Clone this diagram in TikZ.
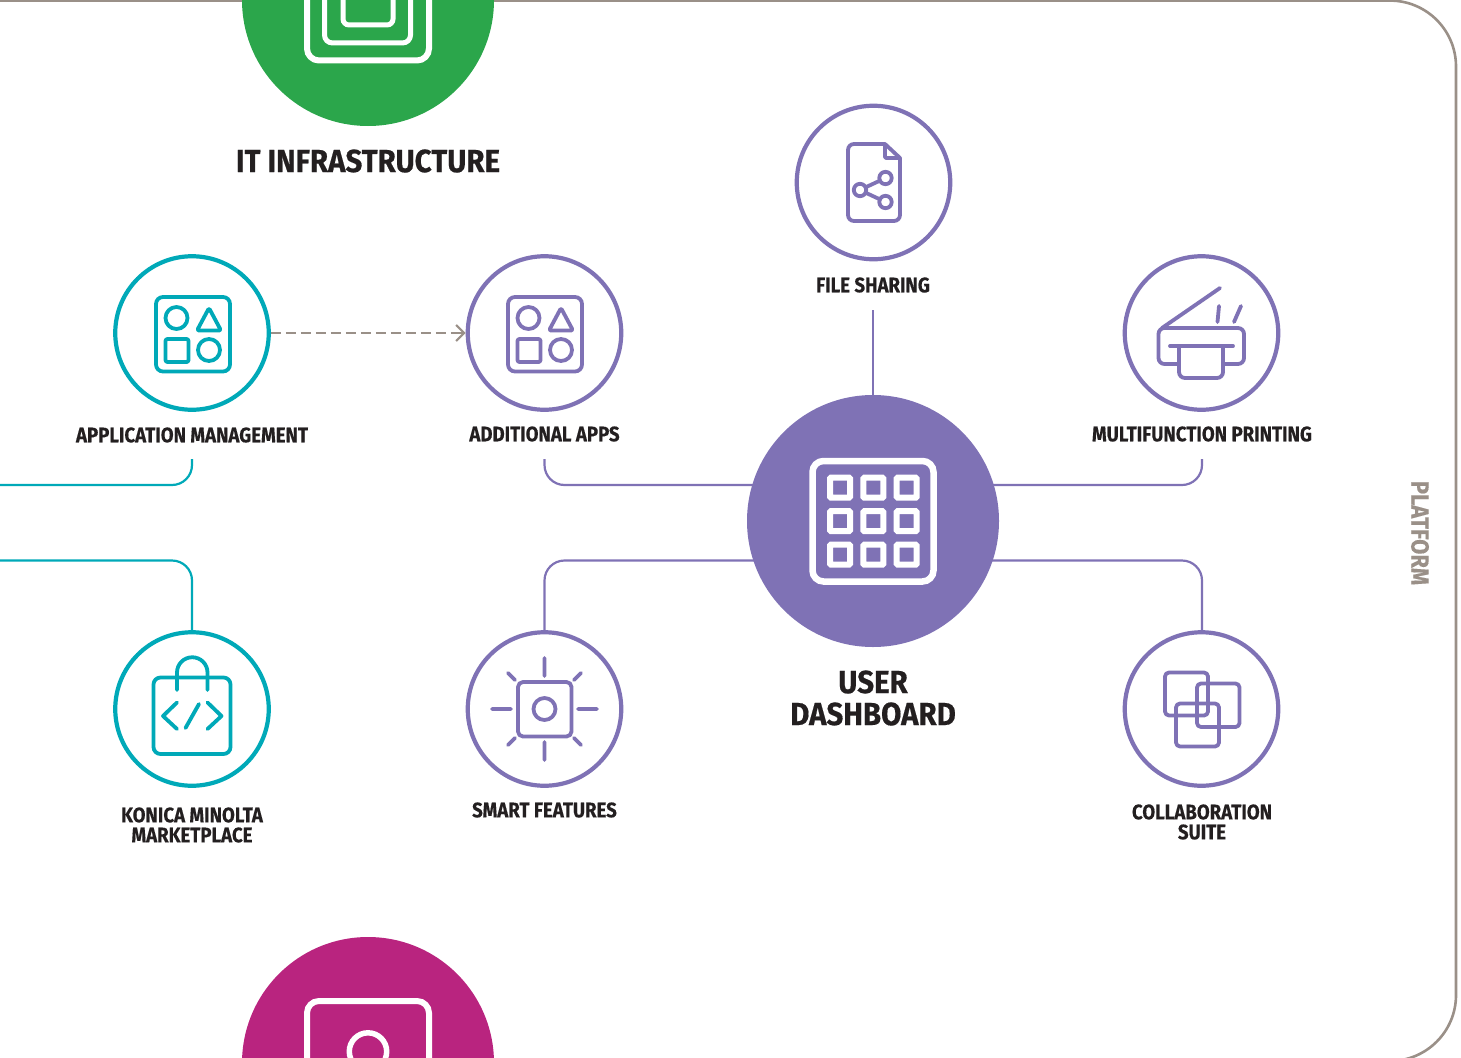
\documentclass[tikz,border=0pt]{standalone}
\usepackage{fontspec}
\setmainfont{Fira Sans}[BoldFont={Fira Sans Bold},BoldFeatures={FakeStretch=0.888,FakeBold=0.35}]
\newfontfamily\titlefont{Fira Sans Bold}[FakeStretch=0.92,FakeBold=0.5]
\usetikzlibrary{backgrounds,arrows.meta}
\definecolor{pur}{HTML}{7F72B5}
\definecolor{teal2}{HTML}{00A9B8}
\definecolor{grn}{HTML}{2BA64B}
\definecolor{mag}{HTML}{B9247F}
\definecolor{gry}{HTML}{9A9088}
\definecolor{ink}{HTML}{231F20}
\tikzset{
 x=1pt,y=-1pt,
 ring/.style={circle,draw=#1,line width=4.2pt,minimum size=153.5pt,inner sep=0pt,fill=white},
 big/.style={circle,fill=#1,minimum size=252pt,inner sep=0pt},
 lbl/.style={font=\bfseries\fontsize{21}{20}\selectfont,text=ink,align=center,inner sep=0pt},
 title/.style={font=\titlefont\fontsize{32}{32}\selectfont,text=ink,align=center,inner sep=0pt},
 ico/.style={draw=#1,line width=3.8pt,line cap=round,line join=round},
 wire/.style={draw=#1,line width=2.2pt,rounded corners=20pt},
}
\newcommand{\shapesicon}[2]{%
 \begin{scope}[shift={(#1,0)}]
 \draw[ico=#2,rounded corners=7pt] (156,297) rectangle (230,371.5);
 \draw[ico=#2] (176.5,318) circle (11);
 \draw[ico=#2,rounded corners=1.5pt] (209,308) -- (221,330.5) -- (197,330.5) -- cycle;
 \draw[ico=#2,rounded corners=2pt] (165.5,339) rectangle (188.5,362);
 \draw[ico=#2] (209,350) circle (11);
 \end{scope}}
\begin{document}
\begin{tikzpicture}
\useasboundingbox (0,0) rectangle (1461,1057);
% frame
\begin{scope}
\clip (0,0) rectangle (1461,1057);
\draw[gry,line width=2.6pt,rounded corners=66pt] (-10,0.6) -- (1456,0.6) -- (1456,1061) -- (1300,1061);
\end{scope}
\node[gry,font=\bfseries\fontsize{24.7}{24}\selectfont,rotate=-90,inner sep=0pt] (plat) at (1420,533) {PLATFORM};

% big circles, clipped by the page
\begin{scope}
\clip (0,0) rectangle (1461,1057);
\node[big=grn] (infra) at (368,0) {};
\node[big=mag] (sec) at (368,1063) {};
\draw[white,line width=6pt,rounded corners=12pt] (307,-30) rectangle (429,60.5);
\draw[white,line width=5pt,rounded corners=8pt] (324.5,-30) rectangle (410.5,43);
\draw[white,line width=5pt,rounded corners=6pt] (343,-30) rectangle (393,25);
\draw[white,line width=6pt,rounded corners=12pt] (307,1001) rectangle (429,1090);
\draw[white,line width=5.5pt] (368,1051.5) circle (18.7);
\end{scope}
\node[title] (infral) at (368,161) {IT INFRASTRUCTURE};

% central node
\node[big=pur] (dash) at (873,521) {};
\draw[white,line width=6.5pt,rounded corners=11pt] (812.5,461) rectangle (933.5,581.5);
\foreach \cx in {840,873.3,906.7}\foreach \cy in {487.7,521.2,554.7}
  \draw[white,line width=6pt,rounded corners=1pt] (\cx-10,\cy-10) rectangle (\cx+10,\cy+10);
\node[title] (dashl) at (873,698) {USER\\[0pt]DASHBOARD};

% satellites
\node[ring=pur] (file) at (873.5,182.5) {};
\node[ring=pur] (print) at (1201.5,333) {};
\node[ring=pur] (apps) at (544.5,333) {};
\node[ring=teal2] (mgmt) at (192,333) {};
\node[ring=teal2] (market) at (192,709) {};
\node[ring=pur] (smart) at (544.5,709) {};
\node[ring=pur] (collab) at (1201.5,709) {};

% labels
\node[lbl] (filel) at (873,285) {FILE SHARING};
\node[lbl] (printl) at (1202,434) {MULTIFUNCTION PRINTING};
\node[lbl] (appsl) at (544.5,434) {ADDITIONAL APPS};
\node[lbl] (mgmtl) at (192,435) {APPLICATION MANAGEMENT};
\node[lbl] (marketl) at (192,825) {KONICA MINOLTA\\[0pt]MARKETPLACE};
\node[lbl] (smartl) at (544.5,810) {SMART FEATURES};
\node[lbl] (collabl) at (1202,822) {COLLABORATION\\[0pt]SUITE};

% connector ends
\coordinate (tlA) at (-5,485);
\coordinate (tlB) at (-5,560.5);
\coordinate (stubF) at (873,310);
\coordinate (stubM) at (192,459);
\coordinate (stubA) at (544.5,459);
\coordinate (stubP) at (1202,459);
\begin{scope}[on background layer]
\path[wire=teal2] (tlA) -- (192,485) -- (stubM);
\path[wire=teal2] (tlB) -- (192,560.5) -- (market);
\path[wire=pur] (dash) ++(0,-36) -- (544.5,485) -- (stubA);
\path[wire=pur] (dash) ++(0,-36) -- (1202,485) -- (stubP);
\path[wire=pur] (dash) ++(0,39.5) -- (544.5,560.5) -- (smart);
\path[wire=pur] (dash) ++(0,39.5) -- (1202,560.5) -- (1202,640);
\path[wire=pur,rounded corners=0pt] (stubF) -- (dash);
\end{scope}
\draw[gry,line width=2.5pt,dash pattern=on 10pt off 5pt] (mgmt) -- (apps);
\draw[gry,line width=2.2pt,-{Straight Barb[length=8pt,width=16pt,line width=2.2pt]}] (452,333) -- (apps);

% icons
\shapesicon{0}{teal2}
\shapesicon{352}{pur}

% file sharing
\draw[ico=pur,rounded corners=6pt] (885,144) -- (848,144) -- (848,221) -- (900,221) -- (900,158);
\draw[ico=pur] (885,144) -- (900,158);
\draw[ico=pur,rounded corners=1pt] (885,144) -- (885,158) -- (900,158);
\draw[ico=pur] (860,190) circle (6.2) (885.5,178) circle (6.2) (885.5,202) circle (6.2);
\draw[ico=pur] (865.6,187.3) -- (880,180.6) (865.6,192.7) -- (880,199.4);

% printer
\draw[ico=pur,rounded corners=6pt] (1179,364) -- (1158.5,364) -- (1158.5,328) -- (1244,328) -- (1244,364) -- (1223,364);
\draw[ico=pur] (1162,328) -- (1220,288);
\draw[ico=pur] (1219,306) -- (1217.5,322) (1241,306) -- (1234,322);
\draw[ico=pur] (1170,346) -- (1233,346);
\draw[ico=pur,rounded corners=6pt] (1179,346) -- (1179,378) -- (1223,378) -- (1223,346);

% marketplace
\draw[ico=teal2,rounded corners=7pt] (153.5,677.5) rectangle (230.5,754);
\draw[ico=teal2] (177,690) -- (177,672.5) arc[start angle=180,end angle=0,radius=15.25pt] -- (207.5,690);
\draw[ico=teal2] (177,702.5) -- (163,716) -- (177,729) (207.5,702.5) -- (221.5,716) -- (207.5,729) (199,704) -- (185.5,728);

% smart
\draw[ico=pur,rounded corners=5pt] (518,682) rectangle (571.5,736.5);
\draw[ico=pur] (544.5,709) circle (11);
\draw[ico=pur] (544.5,658) -- (544.5,676) (544.5,742) -- (544.5,760)
 (492,709) -- (511,709) (578,709) -- (597,709)
 (508,673) -- (515,680) (581,673) -- (574,680) (508,745) -- (515,738) (581,745) -- (574,738);

% collaboration
\draw[ico=pur,rounded corners=4pt] (1165,672.5) rectangle (1208,715.5);
\draw[ico=pur,rounded corners=4pt] (1197,683.5) rectangle (1239.5,727);
\draw[ico=pur,rounded corners=4pt] (1176,703.5) rectangle (1219,746.5);
\end{tikzpicture}
\end{document}
